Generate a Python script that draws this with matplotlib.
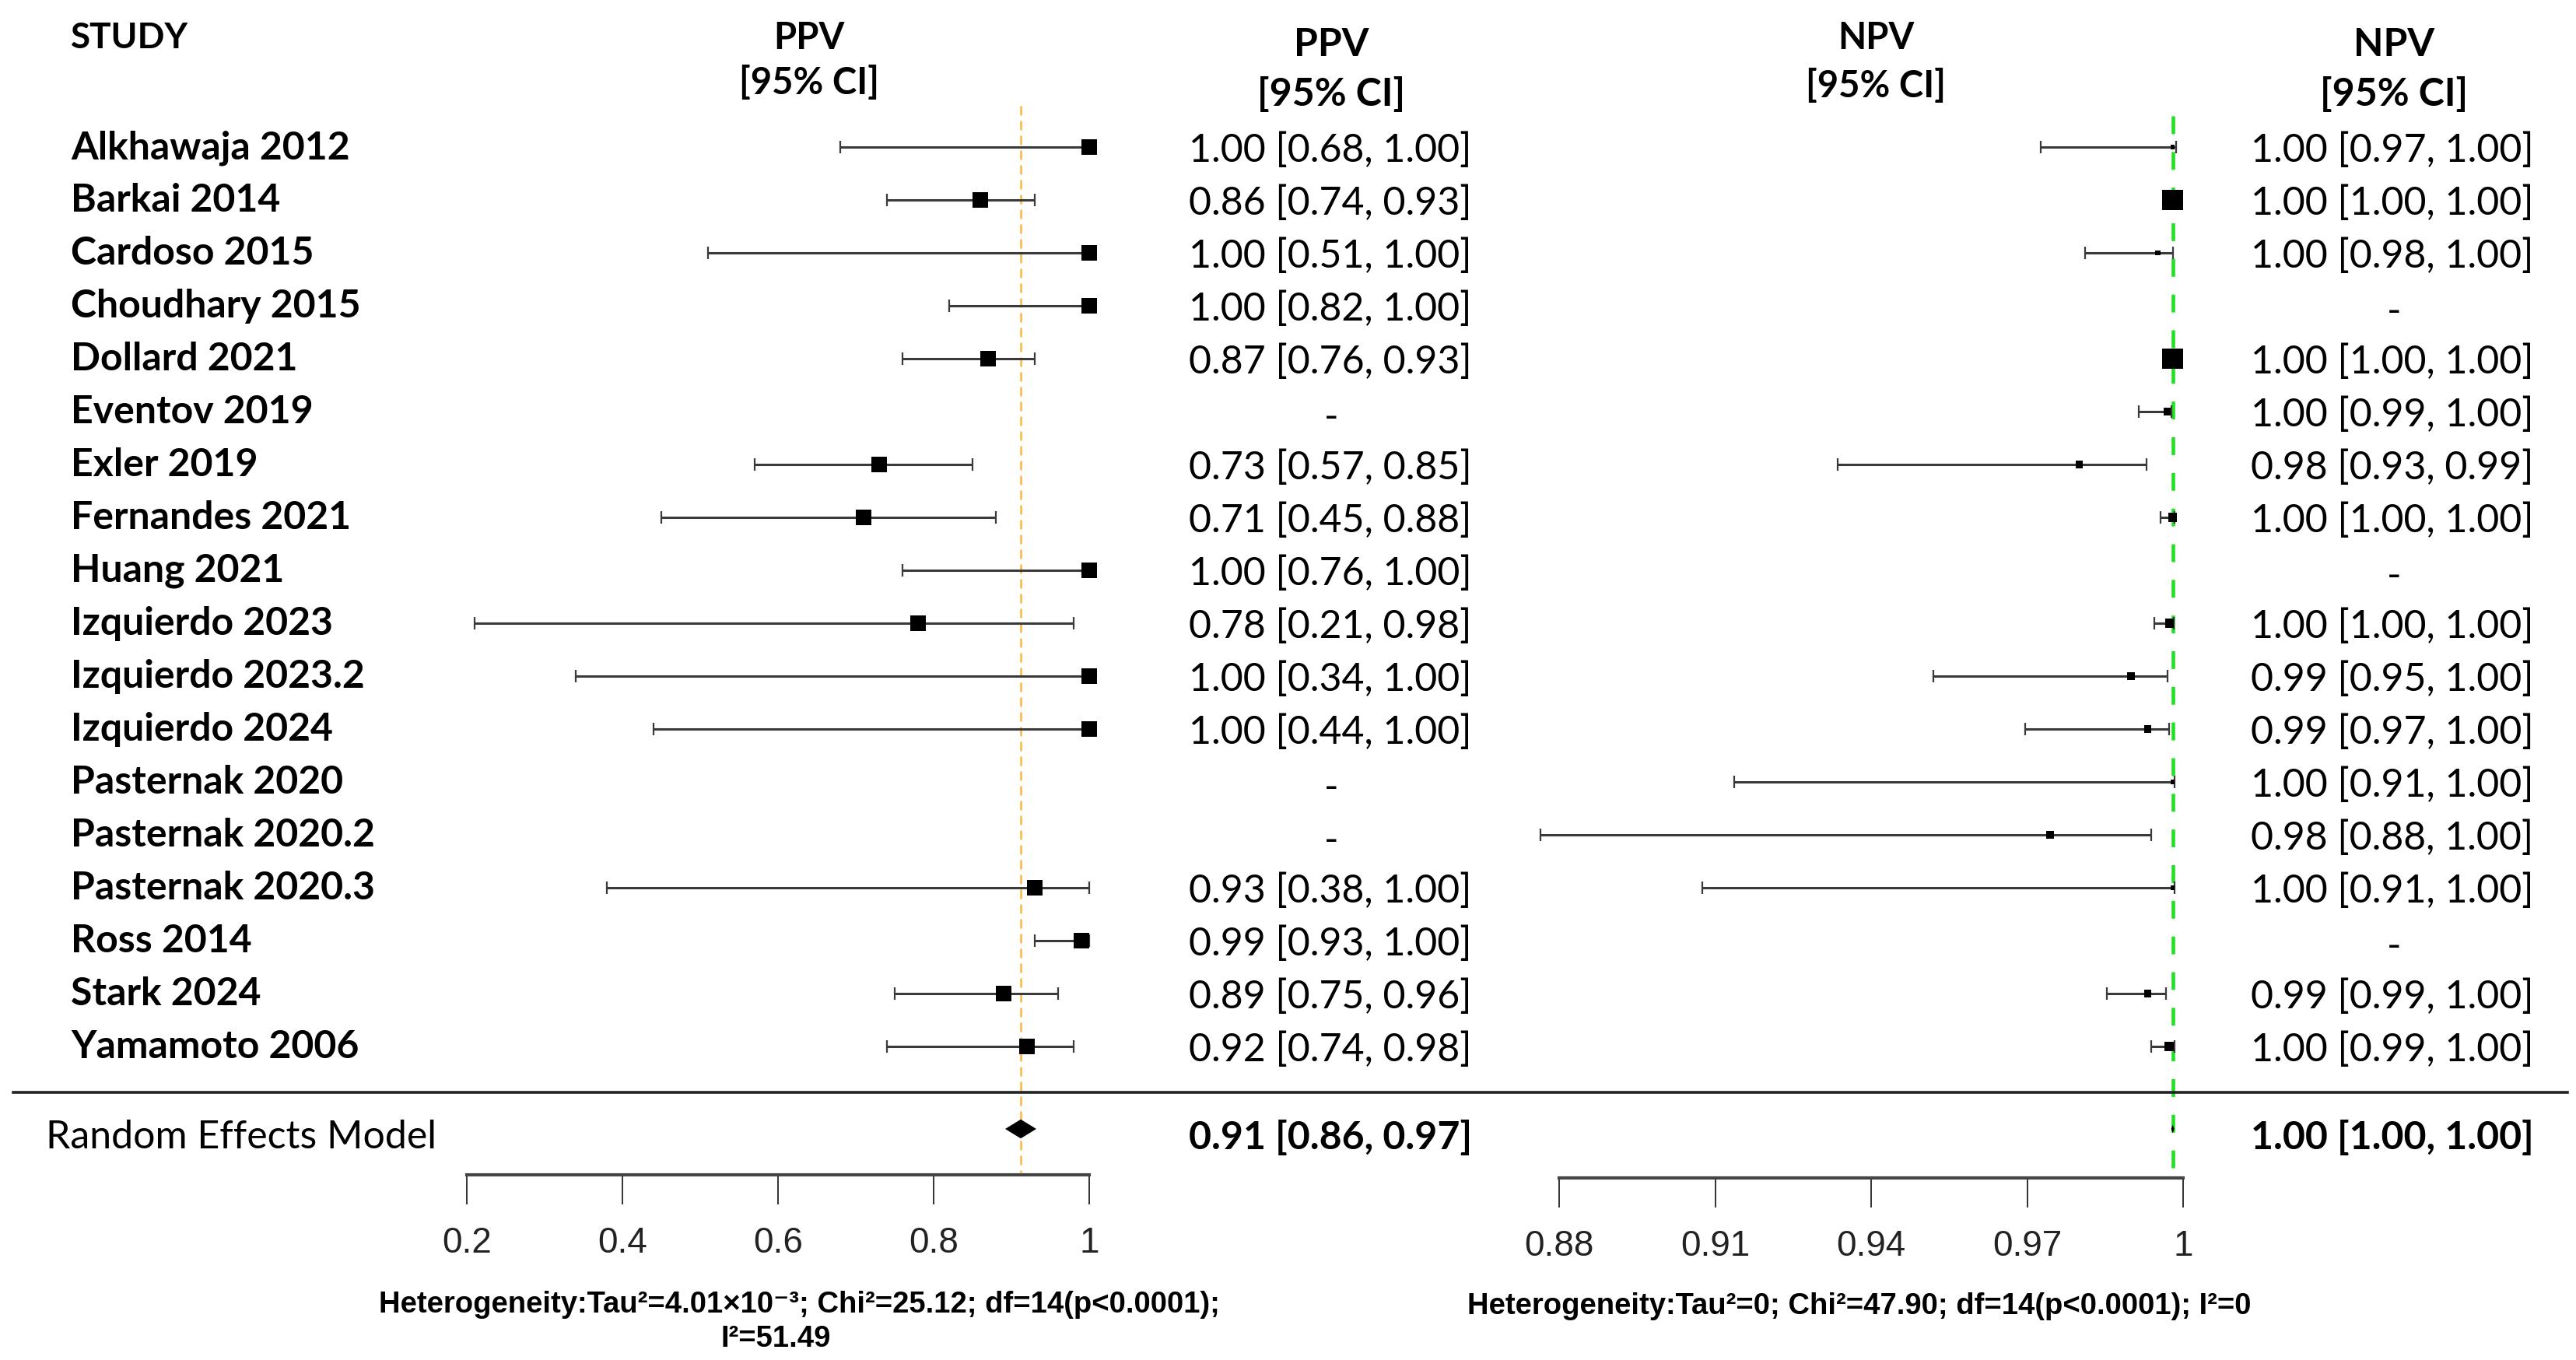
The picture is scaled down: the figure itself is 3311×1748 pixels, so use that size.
import numpy as np
import matplotlib
matplotlib.use('Agg')
import matplotlib.pyplot as plt
from matplotlib.transforms import blended_transform_factory
from matplotlib.lines import Line2D

# data
studies = ['Alkhawaja 2012', 'Barkai 2014', 'Cardoso 2015', 'Choudhary 2015', 'Dollard 2021',
           'Eventov 2019', 'Exler 2019', 'Fernandes 2021', 'Huang 2021', 'Izquierdo 2023',
           'Izquierdo 2023.2', 'Izquierdo 2024', 'Pasternak 2020', 'Pasternak 2020.2',
           'Pasternak 2020.3', 'Ross 2014', 'Stark 2024', 'Yamamoto 2006']
nan = np.nan
ppv_est = [1.00, 0.86, 1.00, 1.00, 0.87, nan, 0.73, 0.71, 1.00, 0.78, 1.00, 1.00, nan, nan, 0.93, 0.99, 0.89, 0.92]
ppv_lo = [0.68, 0.74, 0.51, 0.82, 0.76, nan, 0.57, 0.45, 0.76, 0.21, 0.34, 0.44, nan, nan, 0.38, 0.93, 0.75, 0.74]
ppv_hi = [1.00, 0.93, 1.00, 1.00, 0.93, nan, 0.85, 0.88, 1.00, 0.98, 1.00, 1.00, nan, nan, 1.00, 1.00, 0.96, 0.98]
ppv_size = [15, 15, 15, 15, 15, 0, 15, 15, 15, 15, 15, 15, 0, 0, 15, 15, 15, 15]
ppv_pooled = 0.912
ppv_diamond = (0.892, 0.932)
ppv_pooled_txt = '0.91 [0.86, 0.97]'
ppv_ticks = [0.2, 0.4, 0.6, 0.8, 1.0]
ppv_ticklabels = ['0.2', '0.4', '0.6', '0.8', '1']

npv_est = [0.998, 0.998, 0.9952, nan, 0.998, 0.997, 0.980, 0.998, nan, 0.9974, 0.990, 0.9932,
           0.998, 0.9744, 0.998, nan, 0.9932, 0.9973]
npv_lo = [0.9726, 0.997, 0.9812, nan, 0.997, 0.9915, 0.9336, 0.9956, nan, 0.9945, 0.952, 0.9696,
          0.9137, 0.8764, 0.9076, nan, 0.9854, 0.9939]
npv_hi = [0.9987, 0.999, 0.998, nan, 0.999, 0.9978, 0.993, 0.9984, nan, 0.9982, 0.997, 0.9973,
          0.9983, 0.9939, 0.9983, nan, 0.9967, 0.9984]
npv_size = [4, 19, 5, 0, 19, 6.5, 6.5, 8, 0, 8, 7, 6.5, 4, 7, 4, 0, 6.5, 8.5]
npv_txt = ['1.00 [0.97, 1.00]', '1.00 [1.00, 1.00]', '1.00 [0.98, 1.00]', '-', '1.00 [1.00, 1.00]',
           '1.00 [0.99, 1.00]', '0.98 [0.93, 0.99]', '1.00 [1.00, 1.00]', '-', '1.00 [1.00, 1.00]',
           '0.99 [0.95, 1.00]', '0.99 [0.97, 1.00]', '1.00 [0.91, 1.00]', '0.98 [0.88, 1.00]',
           '1.00 [0.91, 1.00]', '-', '0.99 [0.99, 1.00]', '1.00 [0.99, 1.00]']
npv_pooled = 0.998
npv_diamond = (0.9977, 0.9983)
npv_pooled_txt = '1.00 [1.00, 1.00]'
npv_ticks = [0.88, 0.91, 0.94, 0.97, 1.0]
npv_ticklabels = ['0.88', '0.91', '0.94', '0.97', '1']

ppv_het = ['Heterogeneity:Tau²=4.01×10⁻³; Chi²=25.12; df=14(p<0.0001);', 'I²=51.49']
npv_het = 'Heterogeneity:Tau²=0; Chi²=47.90; df=14(p<0.0001); I²=0'

W, H = 3311, 1749
ROW0, ROWH = 190, 68


def fx(p):
    return p / W


def fy(p):
    return 1 - p / H


def rw(p):
    return (p - ROW0) / ROWH


plt.rcParams['font.family'] = ['Lato', 'DejaVu Sans']
fig = plt.figure(figsize=(W / 100, H / 100), dpi=100)
TICKFONT = ['Liberation Sans', 'DejaVu Sans']


def forest_axes(x0, x1, xmin, xmax, bottom, ticks, labels):
    ax = fig.add_axes([fx(x0), fy(bottom), fx(x1) - fx(x0), (bottom - 100) / H])
    ax.set_xlim(xmin, xmax)
    ax.set_ylim(rw(bottom), rw(100))
    for s in ['top', 'right', 'left']:
        ax.spines[s].set_visible(False)
    ax.spines['bottom'].set_bounds(xmin, xmax)
    ax.spines['bottom'].set_linewidth(3)
    ax.spines['bottom'].set_color('#444444')
    ax.set_yticks([])
    ax.set_xticks(ticks, labels)
    ax.tick_params(axis='x', direction='out', length=27, width=1.3, pad=20,
                   labelsize=33, colors='#222222')
    for t in ax.get_xticklabels():
        t.set_fontfamily(TICKFONT)
    ax.patch.set_alpha(0)
    return ax


def forest(ax, est, lo, hi, size):
    est, lo, hi, size = map(np.asarray, (est, lo, hi, size))
    rows = np.arange(len(est))
    m = ~np.isnan(est)
    ax.errorbar(est[m], rows[m], xerr=[est[m] - lo[m], hi[m] - est[m]], fmt='none',
                ecolor='#3a3a3a', elinewidth=2.2, capsize=6, capthick=1.6, zorder=2)
    ax.scatter(est[m], rows[m], s=size[m] ** 2, marker='s', c='black', zorder=3, linewidths=0)


ax1 = forest_axes(600, 1400, ppv_ticks[0], ppv_ticks[-1], 1511, ppv_ticks, ppv_ticklabels)
ax2 = forest_axes(2004, 2806, npv_ticks[0], npv_ticks[-1], 1515, npv_ticks, npv_ticklabels)

forest(ax1, ppv_est, ppv_lo, ppv_hi, ppv_size)
forest(ax2, npv_est, npv_lo, npv_hi, npv_size)

# pooled reference lines
ax1.vlines(ppv_pooled, rw(137), rw(1508), colors='#FDB53C', linewidth=1.8,
           linestyles=(0, (4.8, 2.8)), zorder=1)
ax2.vlines(npv_pooled, rw(150), rw(1515), colors='#22E022', linewidth=3.3,
           linestyles=(0, (5, 5)), zorder=1)

# pooled diamonds
re_row = rw(1452)
for ax, p, (a, b), dh in [(ax1, ppv_pooled, ppv_diamond, 0.18), (ax2, npv_pooled, npv_diamond, 0.08)]:
    ax.fill([a, p, b, p], [re_row, re_row - dh, re_row, re_row + dh], color='black', zorder=4, lw=0)

for ax in (ax1, ax2):
    for art in ax.get_children():
        art.set_clip_on(False)

tr = blended_transform_factory(fig.transFigure, ax1.transData)
FS = 36

# headers
fig.text(fx(91), fy(49), 'STUDY', fontsize=33, fontweight='bold', va='center')
for cx, cy1, cy2, name, fs in [(1040, 49, 106, 'PPV', 34), (1711, 57, 121, 'PPV', 36),
                               (2411, 49, 110, 'NPV', 34), (3077, 57, 121, 'NPV', 36)]:
    fig.text(fx(cx), fy(cy1), name, fontsize=fs, fontweight='bold', ha='center', va='center')
    fig.text(fx(cx), fy(cy2), '[95% CI]', fontsize=fs, fontweight='bold', ha='center', va='center')

# study rows
for i, name in enumerate(studies):
    fig.text(fx(91), i, name, transform=tr, fontsize=FS, fontweight='bold', va='center')
    if np.isnan(ppv_est[i]):
        fig.text(fx(1711), i + 0.1, '-', transform=tr, fontsize=FS, ha='center', va='center')
    else:
        s = f'{ppv_est[i]:.2f} [{ppv_lo[i]:.2f}, {ppv_hi[i]:.2f}]'
        fig.text(fx(1528), i + 0.06, s, transform=tr, fontsize=FS, va='center')
    if npv_txt[i] == '-':
        fig.text(fx(3077), i + 0.1, '-', transform=tr, fontsize=FS, ha='center', va='center')
    else:
        fig.text(fx(2893), i + 0.06, npv_txt[i], transform=tr, fontsize=FS, va='center')

# separator and random effects row
fig.add_artist(Line2D([fx(17), fx(3300)], [rw(1405), rw(1405)], transform=tr,
                      color='#222222', linewidth=2.6))
fig.text(fx(59), rw(1462), 'Random Effects Model', transform=tr, fontsize=FS, va='center')
fig.text(fx(1528), rw(1462), ppv_pooled_txt, transform=tr, fontsize=FS, fontweight='bold', va='center')
fig.text(fx(2893), rw(1462), npv_pooled_txt, transform=tr, fontsize=FS, fontweight='bold', va='center')

# heterogeneity notes
fig.text(fx(1027), fy(1677), ppv_het[0], fontsize=27.5, fontweight='bold', family=TICKFONT,
         ha='center', va='center')
fig.text(fx(997), fy(1721), ppv_het[1], fontsize=27.5, fontweight='bold', family=TICKFONT,
         ha='center', va='center')
fig.text(fx(2390), fy(1679), npv_het, fontsize=27.5, fontweight='bold', family=TICKFONT,
         ha='center', va='center')

fig.savefig('out.png', dpi=100, facecolor='white')
